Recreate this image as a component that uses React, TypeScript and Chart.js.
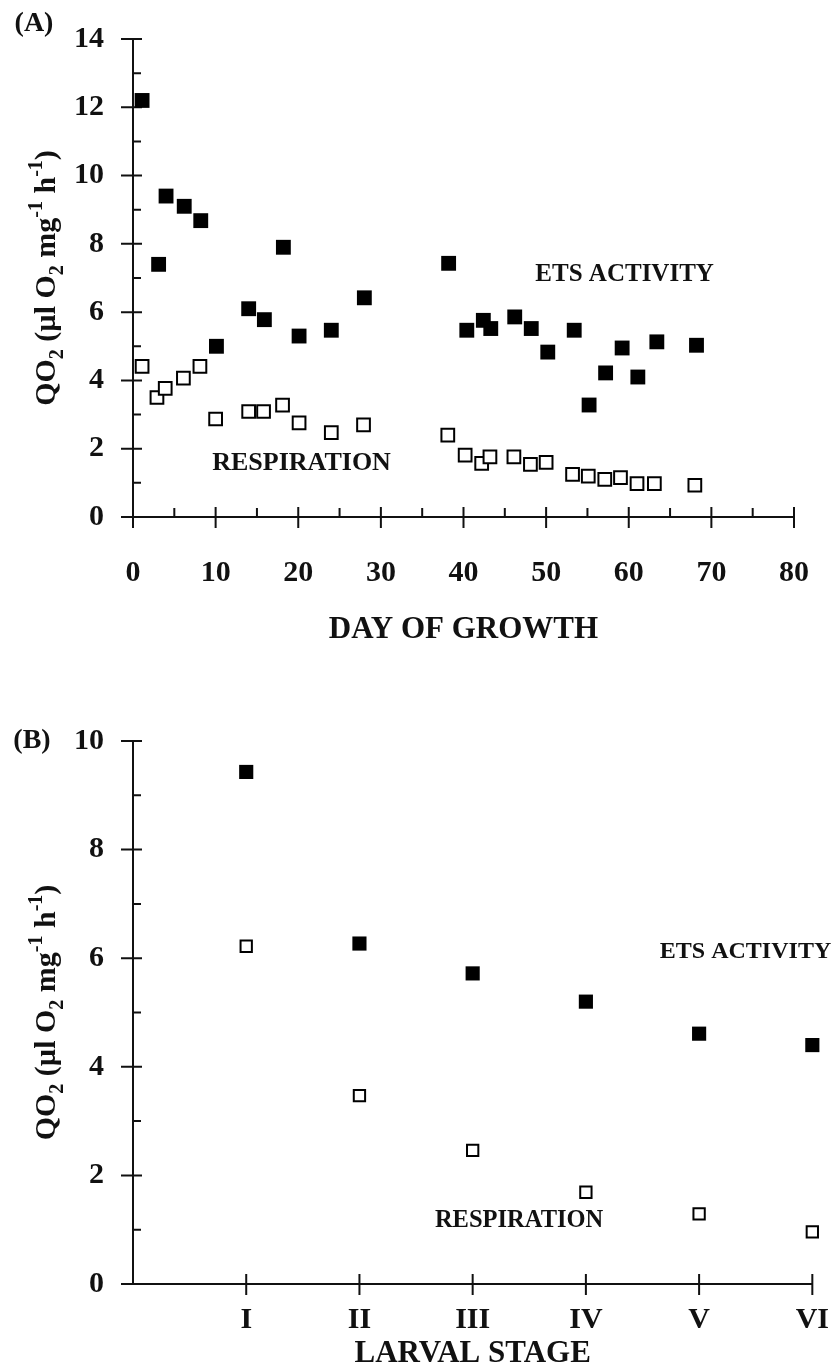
import React, { useEffect, useRef } from 'react';
import { Chart, registerables } from 'chart.js';

Chart.register(...registerables);

// ---------- Panel A data ----------
const growthDaysEts = [1.1, 3.1, 4.0, 6.2, 8.2, 10.1, 14.0, 15.9, 18.2, 20.1, 24.0, 28.0, 38.2, 40.4, 42.4, 43.3, 46.2, 48.2, 50.2, 53.4, 55.2, 57.2, 59.2, 61.1, 63.4, 68.2];
const etsActivityA = [12.2, 7.4, 9.4, 9.1, 8.68, 5.0, 6.1, 5.78, 7.9, 5.3, 5.47, 6.42, 7.43, 5.47, 5.76, 5.52, 5.86, 5.52, 4.83, 5.47, 3.28, 4.22, 4.95, 4.1, 5.13, 5.03];
const growthDaysResp = [1.1, 2.9, 3.9, 6.1, 8.1, 10.0, 14.0, 15.8, 18.1, 20.1, 24.0, 27.9, 38.1, 40.2, 42.2, 43.2, 46.1, 48.1, 50.0, 53.2, 55.1, 57.1, 59.0, 61.0, 63.1, 68.0];
const respirationA = [4.41, 3.5, 3.77, 4.07, 4.41, 2.87, 3.09, 3.09, 3.28, 2.76, 2.47, 2.7, 2.4, 1.81, 1.57, 1.76, 1.76, 1.54, 1.6, 1.25, 1.2, 1.1, 1.15, 0.98, 0.98, 0.93];
const dayTicks = [0, 10, 20, 30, 40, 50, 60, 70, 80];
const dayMinorTicks = [5, 15, 25, 35, 45, 55, 65, 75];
const qo2TicksA = [0, 2, 4, 6, 8, 10, 12, 14];
const qo2MinorTicksA = [1, 3, 5, 7, 9, 11, 13];

// ---------- Panel B data ----------
const larvalStages = ['', 'I', 'II', 'III', 'IV', 'V', 'VI'];
const etsActivityB = [null, 9.43, 6.27, 5.72, 5.2, 4.61, 4.4];
const respirationB = [null, 6.22, 3.47, 2.46, 1.69, 1.29, 0.96];
const stageTickIndex = [1, 2, 3, 4, 5, 6];
const qo2TicksB = [0, 2, 4, 6, 8, 10];
const qo2MinorTicksB = [1, 3, 5, 7, 9];

const FONT = "'Liberation Serif', 'Times New Roman', serif";
const INK = '#111111';

type Seg = { t: string; s?: 'sub' | 'sup' };
const yTitleSegs: Seg[] = [
  { t: 'QO' }, { t: '2', s: 'sub' }, { t: ' (µl O' }, { t: '2', s: 'sub' }, { t: ' mg' },
  { t: '-1', s: 'sup' }, { t: ' h' }, { t: '-1', s: 'sup' }, { t: ')' },
];

function drawRotatedRich(ctx: CanvasRenderingContext2D, baseX: number, centerY: number, segs: Seg[], size: number) {
  const small = Math.round(size * 0.66);
  const fontOf = (s?: string) => `bold ${s ? small : size}px ${FONT}`;
  let total = 0;
  for (const sg of segs) { ctx.font = fontOf(sg.s); total += ctx.measureText(sg.t).width; }
  ctx.save();
  ctx.translate(baseX, centerY);
  ctx.rotate(-Math.PI / 2);
  ctx.fillStyle = INK;
  ctx.textBaseline = 'alphabetic';
  ctx.textAlign = 'left';
  let cx = -total / 2;
  for (const sg of segs) {
    ctx.font = fontOf(sg.s);
    const dy = sg.s === 'sub' ? size * 0.25 : sg.s === 'sup' ? -size * 0.42 : 0;
    ctx.fillText(sg.t, cx, dy);
    cx += ctx.measureText(sg.t).width;
  }
  ctx.restore();
}

const paperPlugin = {
  id: 'paper',
  beforeDatasetsDraw(chart: any, _a: any, opts: any) {
    const { ctx, chartArea: ca, scales } = chart;
    const xs = scales.x, ys = scales.y;
    ctx.save();
    ctx.strokeStyle = INK;
    ctx.lineWidth = 2;
    ctx.beginPath();
    ctx.moveTo(ca.left, ca.top); ctx.lineTo(ca.left, ca.bottom);
    ctx.moveTo(ca.left, ca.bottom); ctx.lineTo(ca.right, ca.bottom);
    for (const v of opts.yMajor) { const p = ys.getPixelForValue(v); ctx.moveTo(ca.left - 12, p); ctx.lineTo(ca.left + 9, p); }
    for (const v of opts.yMinor) { const p = ys.getPixelForValue(v); ctx.moveTo(ca.left, p); ctx.lineTo(ca.left + 8, p); }
    for (const v of opts.xMajor) { const p = xs.getPixelForValue(v); ctx.moveTo(p, ca.bottom + 11); ctx.lineTo(p, ca.bottom - 10); }
    for (const v of opts.xMinor) { const p = xs.getPixelForValue(v); ctx.moveTo(p, ca.bottom); ctx.lineTo(p, ca.bottom - 9); }
    ctx.stroke();
    ctx.restore();
  },
  afterDraw(chart: any, _a: any, opts: any) {
    const { ctx, chartArea: ca, scales } = chart;
    ctx.save();
    ctx.fillStyle = INK;
    ctx.textAlign = 'center';
    ctx.textBaseline = 'middle';
    ctx.font = `bold 28px ${FONT}`;
    ctx.fillText(opts.panel, opts.panelX, opts.panelY);
    for (const n of opts.notes) {
      ctx.font = `bold ${n.size}px ${FONT}`;
      ctx.fillText(n.text, scales.x.getPixelForValue(n.x), scales.y.getPixelForValue(n.y));
    }
    ctx.restore();
    drawRotatedRich(ctx, opts.titleX, (ca.top + ca.bottom) / 2, yTitleSegs, 30);
  },
};

const tickFont = { family: FONT, size: 30, weight: 'bold' as const };

function makeConfigA(): any {
  return {
    type: 'scatter',
    data: {
      datasets: [
        {
          label: 'ETS ACTIVITY',
          data: growthDaysEts.map((d, i) => ({ x: d, y: etsActivityA[i] })),
          pointStyle: 'rect', pointRadius: 10.5, backgroundColor: '#000', borderWidth: 0,
        },
        {
          label: 'RESPIRATION',
          data: growthDaysResp.map((d, i) => ({ x: d, y: respirationA[i] })),
          pointStyle: 'rect', pointRadius: 9, backgroundColor: '#fff', borderColor: '#000', borderWidth: 2,
        },
      ],
    },
    options: {
      animation: false, responsive: false, devicePixelRatio: 1,
      layout: { padding: { left: 0, right: 42, top: 24, bottom: 0 } },
      plugins: {
        legend: { display: false }, tooltip: { enabled: false },
        paper: {
          panel: '(A)', panelX: 34, panelY: 24, titleX: 55,
          yMajor: qo2TicksA, yMinor: qo2MinorTicksA, xMajor: dayTicks, xMinor: dayMinorTicks,
          notes: [
            { text: 'ETS ACTIVITY', x: 59.5, y: 7.1, size: 25 },
            { text: 'RESPIRATION', x: 20.4, y: 1.56, size: 26 },
          ],
        },
      },
      scales: {
        x: {
          type: 'linear', min: 0, max: 80,
          afterBuildTicks: (s: any) => { s.ticks = dayTicks.map((v) => ({ value: v })); },
          afterFit: (s: any) => { s.height = 143; },
          grid: { display: false }, border: { display: false },
          ticks: { font: tickFont, color: INK, padding: 30, autoSkip: false, maxRotation: 0 },
          title: { display: true, text: 'DAY OF GROWTH', color: INK, font: { family: FONT, size: 31, weight: 'bold', lineHeight: 1 }, padding: { top: 0, bottom: 15 } },
        },
        y: {
          type: 'linear', min: 0, max: 14,
          afterBuildTicks: (s: any) => { s.ticks = qo2TicksA.map((v) => ({ value: v })); },
          afterFit: (s: any) => { s.width = 133; },
          grid: { display: false }, border: { display: false },
          ticks: { font: tickFont, color: INK, padding: 21 },
        },
      },
    },
    plugins: [paperPlugin],
  };
}

function makeConfigB(): any {
  return {
    type: 'line',
    data: {
      labels: larvalStages,
      datasets: [
        {
          label: 'ETS ACTIVITY', data: etsActivityB, showLine: false, clip: false,
          pointStyle: 'rect', pointRadius: 10, backgroundColor: '#000', borderColor: '#000', borderWidth: 0,
        },
        {
          label: 'RESPIRATION', data: respirationB, showLine: false, clip: false,
          pointStyle: 'rect', pointRadius: 8, backgroundColor: '#fff', borderColor: '#000', borderWidth: 2,
        },
      ],
    },
    options: {
      animation: false, responsive: false, devicePixelRatio: 1,
      layout: { padding: { left: 0, right: 24, top: 61, bottom: 0 } },
      plugins: {
        legend: { display: false }, tooltip: { enabled: false },
        paper: {
          panel: '(B)', panelX: 32, panelY: 61, titleX: 55,
          yMajor: qo2TicksB, yMinor: qo2MinorTicksB, xMajor: stageTickIndex, xMinor: [],
          notes: [
            { text: 'ETS ACTIVITY', x: 5.41, y: 6.11, size: 24 },
            { text: 'RESPIRATION', x: 3.41, y: 1.16, size: 24.5 },
          ],
        },
      },
      scales: {
        x: {
          type: 'category', offset: false,
          afterFit: (s: any) => { s.height = 85; },
          grid: { display: false }, border: { display: false },
          ticks: { font: tickFont, color: INK, padding: 10, autoSkip: false, maxRotation: 0 },
          title: { display: true, text: 'LARVAL STAGE', color: INK, font: { family: FONT, size: 31, weight: 'bold', lineHeight: 1 }, padding: { top: 0, bottom: 0 } },
        },
        y: {
          type: 'linear', min: 0, max: 10,
          afterBuildTicks: (s: any) => { s.ticks = qo2TicksB.map((v) => ({ value: v })); },
          afterFit: (s: any) => { s.width = 133; },
          grid: { display: false }, border: { display: false },
          ticks: { font: tickFont, color: INK, padding: 21 },
        },
      },
    },
    plugins: [paperPlugin],
  };
}

export default function App() {
  const refA = useRef<HTMLCanvasElement>(null);
  const refB = useRef<HTMLCanvasElement>(null);
  useEffect(() => {
    const a = new Chart(refA.current as HTMLCanvasElement, makeConfigA());
    const b = new Chart(refB.current as HTMLCanvasElement, makeConfigB());
    return () => { a.destroy(); b.destroy(); };
  }, []);
  return (
    <div style={{ position: 'absolute', left: 0, top: 0, width: 839, height: 1369, background: '#fff', overflow: 'hidden' }}>
      <canvas ref={refA} width={839} height={660} style={{ position: 'absolute', left: 0, top: 0, width: 839, height: 660, display: 'block' }} />
      <canvas ref={refB} width={839} height={689} style={{ position: 'absolute', left: 0, top: 680, width: 839, height: 689, display: 'block' }} />
    </div>
  );
}
